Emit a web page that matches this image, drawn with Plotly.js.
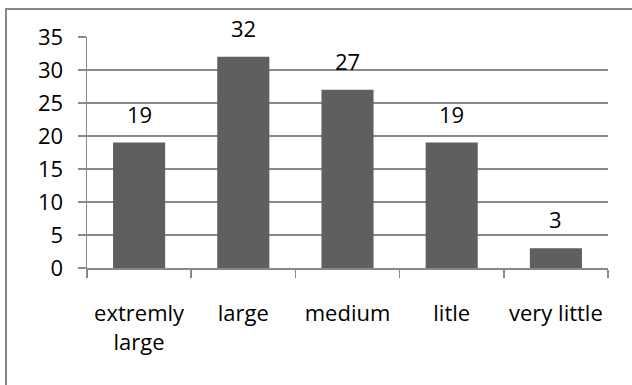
<!DOCTYPE html>
<html>
<head>
<meta charset="utf-8">
<script src="https://cdn.plot.ly/plotly-3.0.1.min.js"></script>
<style>html,body{margin:0;padding:0;background:#fff;}#chart{width:632px;height:385px;}</style>
</head>
<body>
<div id="chart"></div>
<script>
var categories = ["extremly<br>large", "large", "medium", "litle", "very little"];
var values = [19, 32, 27, 19, 3];
var yTicks = [0, 5, 10, 15, 20, 25, 30, 35];

var FONT = "Open Sans, sans-serif";
var GRID = "#898989";

var trace = {
  type: "bar",
  x: categories,
  y: values,
  marker: {color: "#5f5f5f", line: {width: 0}},
  width: 0.5,
  hoverinfo: "none"
};

var annotations = categories.map(function (c, i) {
  return {
    x: c, y: values[i], xref: "x", yref: "y",
    text: String(values[i]), showarrow: false,
    yanchor: "bottom", yshift: 12,
    font: {family: FONT, size: 22, color: "#000"}
  };
});

var layout = {
  width: 632, height: 385,
  margin: {l: 87, r: 24, t: 37, b: 117, pad: 0},
  paper_bgcolor: "#fff", plot_bgcolor: "#fff",
  showlegend: false,
  font: {family: FONT, size: 22, color: "#000"},
  xaxis: {
    type: "category",
    showgrid: false,
    showline: true, linecolor: GRID, linewidth: 1.5,
    ticks: "outside", tickson: "boundaries", ticklen: 8, tickcolor: GRID, tickwidth: 1.5,
    tickfont: {family: FONT, size: 22, color: "#000"},
    ticklabelstandoff: 25,
    fixedrange: true
  },
  yaxis: {
    range: [0, 35],
    tickvals: yTicks,
    showgrid: true, gridcolor: GRID, gridwidth: 1.5,
    zeroline: false,
    showline: true, linecolor: GRID, linewidth: 1.5,
    ticks: "outside", ticklen: 8, tickcolor: GRID, tickwidth: 1.5,
    tickfont: {family: FONT, size: 22, color: "#000"},
    ticklabelstandoff: 10,
    fixedrange: true
  },
  annotations: annotations,
  shapes: [{
    type: "rect", xref: "paper", yref: "paper",
    x0: -0.1555, x1: 1.2, y0: -0.6, y1: 1.1212,
    line: {color: "#868686", width: 2}, fillcolor: "rgba(0,0,0,0)", layer: "below"
  }]
};

Plotly.newPlot("chart", [trace], layout, {staticPlot: true, displayModeBar: false});
</script>
</body>
</html>
